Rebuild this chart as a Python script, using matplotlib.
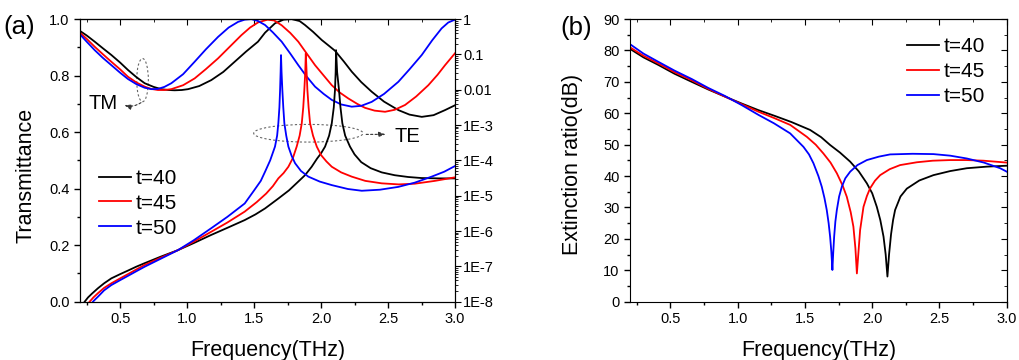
import numpy as np
import matplotlib
matplotlib.use("Agg")
import matplotlib.pyplot as plt
from matplotlib.patches import Ellipse
from matplotlib.ticker import MultipleLocator, NullFormatter, LogLocator

plt.rcParams['font.family'] = ['Liberation Sans', 'DejaVu Sans']

labels = ["t=40", "t=45", "t=50"]
colors = ["black", "red", "blue"]

# (a) TM transmittance, left axis (linear)
tm40_f = [0.2, 0.25, 0.31, 0.37, 0.434, 0.5, 0.558, 0.62, 0.683, 0.75, 0.807, 0.86, 0.907, 0.96,
          1.007, 1.09, 1.18, 1.27, 1.355, 1.44, 1.529, 1.582, 1.656, 1.72, 1.78, 1.84, 1.88, 1.94,
          2.005, 2.06, 2.104, 2.17, 2.229, 2.3, 2.378, 2.47, 2.577, 2.66, 2.752, 2.84, 2.926, 3.0]
tm40_t = [0.958, 0.942, 0.920, 0.897, 0.873, 0.846, 0.820, 0.795, 0.773, 0.760, 0.752, 0.749, 0.748, 0.749,
          0.752, 0.763, 0.784, 0.813, 0.849, 0.885, 0.920, 0.952, 0.985, 0.998, 1.0, 0.993, 0.979, 0.955,
          0.926, 0.905, 0.888, 0.850, 0.814, 0.777, 0.743, 0.708, 0.678, 0.662, 0.654, 0.660, 0.678, 0.695]
tm45_f = [0.2, 0.25, 0.31, 0.37, 0.434, 0.5, 0.558, 0.62, 0.683, 0.73, 0.782, 0.83, 0.882, 0.97,
          1.056, 1.14, 1.231, 1.32, 1.405, 1.47, 1.529, 1.6, 1.65, 1.706, 1.77, 1.83, 1.89, 1.955,
          2.02, 2.08, 2.14, 2.204, 2.27, 2.328, 2.4, 2.478, 2.55, 2.627, 2.71, 2.801, 2.87, 2.926, 3.0]
tm45_t = [0.952, 0.930, 0.902, 0.876, 0.849, 0.822, 0.796, 0.776, 0.761, 0.753, 0.749, 0.749, 0.752, 0.766,
          0.790, 0.823, 0.861, 0.903, 0.943, 0.970, 0.988, 0.998, 0.995, 0.978, 0.951, 0.920, 0.880, 0.837,
          0.800, 0.766, 0.740, 0.719, 0.700, 0.686, 0.676, 0.672, 0.679, 0.696, 0.726, 0.766, 0.803, 0.837, 0.879]
tm50_f = [0.2, 0.25, 0.31, 0.37, 0.434, 0.5, 0.558, 0.62, 0.683, 0.735, 0.782, 0.83, 0.882, 0.97,
          1.056, 1.14, 1.231, 1.31, 1.38, 1.43, 1.48, 1.53, 1.582, 1.64, 1.706, 1.77, 1.83, 1.89,
          1.955, 2.02, 2.08, 2.15, 2.229, 2.3, 2.378, 2.47, 2.577, 2.66, 2.752, 2.83, 2.9, 2.95, 3.0]
tm50_t = [0.946, 0.920, 0.890, 0.863, 0.837, 0.810, 0.788, 0.770, 0.757, 0.752, 0.753, 0.760, 0.773, 0.805,
          0.849, 0.893, 0.937, 0.970, 0.990, 0.998, 1.0, 0.993, 0.979, 0.953, 0.920, 0.878, 0.837, 0.798,
          0.761, 0.735, 0.714, 0.698, 0.690, 0.693, 0.707, 0.735, 0.778, 0.822, 0.873, 0.925, 0.967, 0.988, 0.998]

# (a) TE transmittance, right axis (given as log10 of the value)
te40_f = [0.235, 0.26, 0.29, 0.334, 0.38, 0.434, 0.5, 0.558, 0.62, 0.683, 0.8, 0.932, 1.05, 1.18,
          1.3, 1.43, 1.51, 1.582, 1.681, 1.76, 1.83, 1.88, 1.93, 1.97, 2.0, 2.03, 2.06, 2.08, 2.095,
          2.104, 2.109, 2.112, 2.12, 2.134, 2.145, 2.159, 2.18, 2.216, 2.25, 2.3, 2.37, 2.453, 2.55,
          2.65, 2.75, 2.88, 3.0]
te40_log = [-8.0, -7.88, -7.77, -7.62, -7.48, -7.34, -7.22, -7.12, -7.01, -6.91, -6.73, -6.54, -6.34, -6.11,
            -5.91, -5.69, -5.53, -5.36, -5.08, -4.85, -4.6, -4.42, -4.18, -3.95, -3.8, -3.61, -3.3, -2.95, -2.5,
            -2.01, -1.5, -0.88, -1.5, -2.01, -2.5, -2.95, -3.3, -3.61, -3.83, -4.05, -4.22, -4.34, -4.42,
            -4.47, -4.5, -4.51, -4.51]
te45_f = [0.272, 0.3, 0.334, 0.38, 0.434, 0.5, 0.558, 0.62, 0.683, 0.8, 0.932, 1.05, 1.18, 1.3,
          1.43, 1.52, 1.59, 1.64, 1.681, 1.72, 1.756, 1.79, 1.818, 1.84, 1.856, 1.867, 1.875, 1.882,
          1.886, 1.892, 1.898, 1.907, 1.918, 1.94, 1.968, 2.0, 2.04, 2.08, 2.15, 2.229, 2.33, 2.453,
          2.58, 2.7, 2.85, 3.0]
te45_log = [-8.0, -7.88, -7.76, -7.61, -7.48, -7.34, -7.22, -7.09, -6.96, -6.76, -6.54, -6.3, -6.02, -5.76,
            -5.45, -5.18, -4.94, -4.73, -4.51, -4.36, -4.18, -3.93, -3.61, -3.3, -2.95, -2.5, -2.01, -1.5,
            -0.97, -1.5, -2.01, -2.5, -2.95, -3.3, -3.61, -3.85, -4.03, -4.18, -4.34, -4.46, -4.58, -4.65,
            -4.68, -4.66, -4.58, -4.48]
te50_f = [0.297, 0.315, 0.334, 0.38, 0.434, 0.5, 0.558, 0.62, 0.683, 0.8, 0.932, 1.05, 1.18, 1.3,
          1.43, 1.5, 1.55, 1.582, 1.62, 1.656, 1.672, 1.681, 1.689, 1.694, 1.698, 1.701, 1.705, 1.711,
          1.718, 1.726, 1.74, 1.756, 1.78, 1.806, 1.85, 1.905, 1.99, 2.08, 2.2, 2.304, 2.44, 2.577,
          2.7, 2.826, 2.92, 3.0]
te50_log = [-8.0, -7.93, -7.86, -7.68, -7.53, -7.39, -7.27, -7.14, -7.01, -6.79, -6.54, -6.26, -5.92, -5.6,
            -5.22, -4.85, -4.58, -4.32, -4.0, -3.61, -3.3, -2.95, -2.5, -2.01, -1.5, -1.02, -1.5, -2.01,
            -2.5, -2.95, -3.3, -3.61, -3.87, -4.08, -4.3, -4.46, -4.6, -4.70, -4.81, -4.86, -4.83, -4.75,
            -4.63, -4.46, -4.32, -4.16]

# (b) extinction ratio (dB)
er40_f = [0.2, 0.3, 0.41, 0.53, 0.659, 0.78, 0.906, 1.03, 1.154, 1.28, 1.4, 1.538, 1.62, 1.687,
          1.76, 1.836, 1.9, 1.96, 2.0, 2.034, 2.06, 2.084, 2.1, 2.113, 2.125, 2.14, 2.155, 2.17,
          2.21, 2.257, 2.35, 2.455, 2.58, 2.703, 2.85, 3.0]
er40_db = [80.5, 77.8, 75.4, 72.6, 70.0, 67.6, 65.3, 63.1, 61.0, 59.1, 57.2, 54.7, 52.4, 49.9,
           47.5, 44.6, 41.5, 37.7, 34.5, 30.2, 26.0, 20.7, 15.0, 8.0, 15.0, 21.5, 26.0, 29.2,
           33.5, 36.0, 38.6, 40.3, 41.6, 42.5, 43.0, 43.3]
er45_f = [0.2, 0.3, 0.41, 0.53, 0.659, 0.78, 0.906, 1.03, 1.154, 1.27, 1.39, 1.514, 1.58, 1.637,
          1.69, 1.737, 1.78, 1.811, 1.84, 1.86, 1.875, 1.886, 1.898, 1.91, 1.935, 1.96, 1.984, 2.02,
          2.059, 2.13, 2.207, 2.332, 2.45, 2.58, 2.7, 2.827, 3.0]
er45_db = [81.0, 78.3, 75.9, 73.1, 70.5, 67.8, 65.3, 62.9, 60.5, 58.5, 56.3, 52.5, 50.0, 47.2,
           44.3, 40.9, 37.0, 33.4, 28.5, 23.9, 17.0, 9.0, 16.0, 22.8, 30.2, 33.6, 36.1, 38.5,
           40.3, 42.2, 43.5, 44.4, 44.9, 45.1, 45.1, 44.9, 44.3]
er50_f = [0.2, 0.3, 0.41, 0.53, 0.659, 0.78, 0.906, 1.03, 1.154, 1.27, 1.39, 1.489, 1.53, 1.563,
          1.6, 1.625, 1.645, 1.662, 1.676, 1.687, 1.696, 1.704, 1.71, 1.717, 1.726, 1.737, 1.754, 1.774,
          1.8, 1.836, 1.89, 1.96, 2.05, 2.133, 2.3, 2.455, 2.58, 2.703, 2.83, 2.951, 3.0]
er50_db = [82.0, 79.0, 76.4, 73.6, 70.9, 68.1, 65.5, 62.6, 59.5, 56.8, 53.6, 49.3, 46.9, 44.1,
           40.0, 36.6, 33.0, 29.2, 25.0, 20.7, 16.0, 10.1, 15.5, 20.7, 25.5, 29.2, 33.5, 36.6,
           39.3, 41.4, 43.5, 45.1, 46.2, 46.9, 47.1, 47.0, 46.5, 45.6, 44.3, 42.5, 41.4]

fig = plt.figure(figsize=(10.19, 3.6), dpi=100)
ax1 = fig.add_axes([0.0785, 0.162, 0.368, 0.785])
ax1r = ax1.twinx()
ax2 = fig.add_axes([0.6183, 0.162, 0.3697, 0.785])

lw = 1.3
for f, t, c in zip([tm40_f, tm45_f, tm50_f], [tm40_t, tm45_t, tm50_t], colors):
    ax1.plot(f, t, color=c, lw=lw)
for f, lg, c, lab in zip([te40_f, te45_f, te50_f], [te40_log, te45_log, te50_log], colors, labels):
    ax1r.plot(f, 10.0 ** np.array(lg), color=c, lw=lw, label=lab)
for f, d, c, lab in zip([er40_f, er45_f, er50_f], [er40_db, er45_db, er50_db], colors, labels):
    ax2.plot(f, d, color=c, lw=lw, label=lab)

tick_fs = 10.5
lab_fs = 15.5


def mirror_ticks(ax, yright=True):
    top = ax.secondary_xaxis('top')
    top.xaxis.set_major_locator(MultipleLocator(0.5))
    top.xaxis.set_minor_locator(MultipleLocator(0.25))
    top.tick_params(which='both', direction='in', labeltop=False)
    top.tick_params(which='major', length=4)
    top.tick_params(which='minor', length=2.5)
    if yright:
        right = ax.secondary_yaxis('right')
        right.yaxis.set_major_locator(MultipleLocator(10))
        right.yaxis.set_minor_locator(MultipleLocator(5))
        right.tick_params(which='both', direction='in', labelright=False)
        right.tick_params(which='major', length=4)
        right.tick_params(which='minor', length=2.5)


# panel (a)
ax1.set_xlim(0.2, 3.0)
ax1.set_ylim(0.0, 1.0)
ax1.xaxis.set_major_locator(MultipleLocator(0.5))
ax1.xaxis.set_minor_locator(MultipleLocator(0.25))
ax1.yaxis.set_major_locator(MultipleLocator(0.2))
ax1.yaxis.set_minor_locator(MultipleLocator(0.1))
ax1.xaxis.set_major_formatter(plt.FormatStrFormatter('%.1f'))
ax1.yaxis.set_major_formatter(plt.FormatStrFormatter('%.1f'))
ax1.tick_params(which='both', direction='out', labelsize=tick_fs)
ax1.tick_params(which='major', length=4, width=1)
ax1.tick_params(which='minor', length=2.5, width=1)
mirror_ticks(ax1, yright=False)

ax1r.set_yscale('log')
ax1r.set_ylim(1e-8, 1)
ax1r.set_yticks([1e-8, 1e-7, 1e-6, 1e-5, 1e-4, 1e-3, 1e-2, 1e-1, 1])
ax1r.set_yticklabels(["1E-8", "1E-7", "1E-6", "1E-5", "1E-4", "1E-3", "0.01", "0.1", "1"])
ax1r.yaxis.set_minor_locator(LogLocator(base=10, subs=np.arange(2, 10), numticks=20))
ax1r.yaxis.set_minor_formatter(NullFormatter())
ax1r.tick_params(which='both', direction='out', labelsize=tick_fs, pad=2)
ax1r.tick_params(which='major', length=4)
ax1r.tick_params(which='minor', length=2.5)

ax1.set_xlabel("Frequency(THz)", fontsize=lab_fs)
ax1.set_ylabel("Transmittance", fontsize=lab_fs)
ax1.xaxis.set_label_coords(0.5, -0.135)
ax1.yaxis.set_label_coords(-0.115, 0.448)

ax1r.legend(loc='upper left', bbox_to_anchor=(0.051, 0.47), frameon=False, fontsize=15,
            handlelength=1.55, handletextpad=0.2, labelspacing=0.28, borderpad=0, borderaxespad=0)

# TM / TE markers
ell_kw = dict(fill=False, ec='0.4', lw=0.8, ls=(0, (2, 2)))
ax1.add_patch(Ellipse((0.667, 0.784), 0.087, 0.153, **ell_kw))
ax1.add_patch(Ellipse((1.905, 0.596), 0.816, 0.0625, **ell_kw))
arr_kw = dict(arrowstyle='-|>,head_length=0.4,head_width=0.15', color='0.2', lw=0.8, ls=(0, (2, 2)))
ax1.annotate("", xy=(0.511, 0.699), xytext=(0.672, 0.71),
             arrowprops=dict(connectionstyle='arc3,rad=-0.3', **arr_kw))
ax1.annotate("", xy=(2.503, 0.592), xytext=(2.316, 0.592), arrowprops=dict(**arr_kw))
ax1.text(0.376, 0.70, "TM", fontsize=14.5, ha='center', va='center')
ax1.text(2.646, 0.583, "TE", fontsize=14.5, ha='center', va='center')

# panel (b)
ax2.set_xlim(0.2, 3.0)
ax2.set_ylim(0, 90)
ax2.xaxis.set_major_locator(MultipleLocator(0.5))
ax2.xaxis.set_minor_locator(MultipleLocator(0.25))
ax2.yaxis.set_major_locator(MultipleLocator(10))
ax2.yaxis.set_minor_locator(MultipleLocator(5))
ax2.xaxis.set_major_formatter(plt.FormatStrFormatter('%.1f'))
ax2.tick_params(which='both', direction='out', labelsize=tick_fs)
ax2.tick_params(which='major', length=4, width=1)
ax2.tick_params(which='minor', length=2.5, width=1)
mirror_ticks(ax2)

ax2.set_xlabel("Frequency(THz)", fontsize=lab_fs)
ax2.set_ylabel("Extinction ratio(dB)", fontsize=lab_fs)
ax2.xaxis.set_label_coords(0.5, -0.135)
ax2.yaxis.set_label_coords(-0.124, 0.485)
ax2.legend(loc='upper left', bbox_to_anchor=(0.735, 0.935), frameon=False, fontsize=15,
           handlelength=1.55, handletextpad=0.2, labelspacing=0.28, borderpad=0, borderaxespad=0)

fig.text(0.003, 0.925, "(a)", fontsize=18.5, ha='left', va='center')
fig.text(0.550, 0.922, "(b)", fontsize=18.5, ha='left', va='center')

fig.savefig("out.png", dpi=100)
